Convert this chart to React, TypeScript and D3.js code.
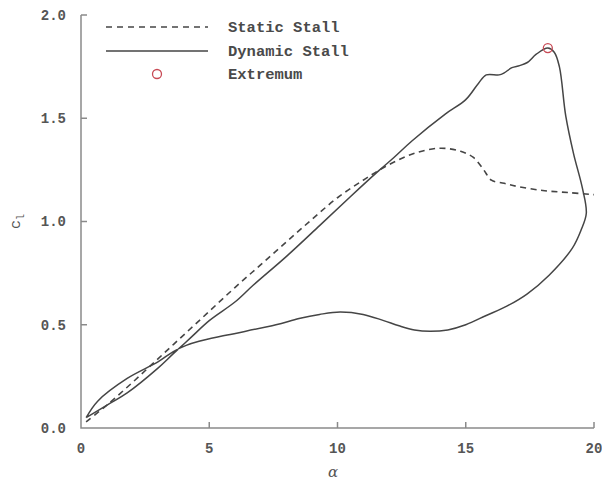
import React from "react";
import * as d3 from "d3";

const staticAlpha = [0.2, 1, 2, 3, 4, 5, 6, 7, 8, 9, 10, 11, 12, 13, 14, 14.8, 15.3, 15.7, 16, 16.5, 17, 18, 19, 20];
const staticCl = [0.03, 0.11, 0.22, 0.335, 0.45, 0.565, 0.68, 0.79, 0.9, 1.01, 1.115, 1.2, 1.275, 1.33, 1.355, 1.34, 1.31, 1.25, 1.2, 1.185, 1.17, 1.15, 1.14, 1.13];

const dynAlpha = [
  0.2, 1.0, 1.8, 3.0, 3.6, 4.3, 5.0, 6.0, 6.7, 8.0, 9.3, 10.5, 11.6, 12.2, 12.9, 14.2, 15.0, 15.5, 15.8, 16.3,
  16.5, 16.8, 17.1, 17.4, 17.75, 18.2, 18.45, 18.65, 18.9, 19.2, 19.55, 19.7, 19.5, 19.15, 18.25, 17.4, 16.6,
  15.8, 15.0, 14.3, 13.6, 13.0, 12.4, 11.8, 11.0, 10.1, 9.3, 8.5, 7.6, 5.7, 4.6, 4.1, 3.6, 3.0, 1.8, 0.65, 0.2,
];
const dynCl = [
  0.05, 0.11, 0.17, 0.29, 0.36, 0.44, 0.52, 0.61, 0.69, 0.83, 0.98, 1.12, 1.245, 1.31, 1.39, 1.52, 1.59, 1.67, 1.71, 1.71,
  1.72, 1.745, 1.755, 1.77, 1.81, 1.84, 1.82, 1.75, 1.51, 1.33, 1.16, 1.04, 0.96, 0.87, 0.74, 0.65, 0.59,
  0.545, 0.5, 0.475, 0.468, 0.475, 0.495, 0.52, 0.55, 0.562, 0.55, 0.53, 0.5, 0.45, 0.42, 0.4, 0.37, 0.32, 0.24, 0.13, 0.05,
];

const extremumAlpha = [18.2];
const extremumCl = [1.84];

const xTicks = [0, 5, 10, 15, 20];
const yTicks = [0, 0.5, 1.0, 1.5, 2.0];
const yTickLabels = ["0.0", "0.5", "1.0", "1.5", "2.0"];
const legendLabels = ["Static Stall", "Dynamic Stall", "Extremum"];

export default function App() {
  const W = 602, H = 480;
  const x = d3.scaleLinear().domain([0, 20]).range([81, 594]);
  const y = d3.scaleLinear().domain([0, 2]).range([428, 15]);
  const line = d3
    .line<[number, number]>()
    .x((d) => x(d[0]))
    .y((d) => y(d[1]))
    .curve(d3.curveCatmullRom.alpha(0.5));
  const staticPts: [number, number][] = staticAlpha.map((a, i) => [a, staticCl[i]]);
  const dynPts: [number, number][] = dynAlpha.map((a, i) => [a, dynCl[i]]);
  const axisColor = "#8a8a8a";
  const curveColor = "#454545";
  const textColor = "#555";
  const font = "'Liberation Mono', monospace";
  return (
    <svg width={W} height={H} style={{ position: "absolute", left: 0, top: 0, background: "#fff" }}>
      <rect x={0} y={0} width={W} height={H} fill="#fff" />
      <path d={`M${x(0)},${y(2)}V${y(0)}H${x(20)}`} fill="none" stroke={axisColor} strokeWidth={1.5} />
      {yTicks.slice(1).map((t) => (
        <line key={"yt" + t} x1={x(0)} x2={x(0) + 6} y1={y(t)} y2={y(t)} stroke={axisColor} strokeWidth={1.5} />
      ))}
      {xTicks.slice(1).map((t) => (
        <line key={"xt" + t} x1={x(t)} x2={x(t)} y1={y(0)} y2={y(0) - 6} stroke={axisColor} strokeWidth={1.5} />
      ))}
      {yTicks.map((t, i) => (
        <text key={"yl" + t} x={x(0) - 15} y={y(t)} dy="0.35em" textAnchor="end" fontFamily={font} fontWeight="bold" fontSize={14} fill={textColor}>
          {yTickLabels[i]}
        </text>
      ))}
      {xTicks.map((t) => (
        <text key={"xl" + t} x={x(t)} y={448} dy="0.35em" textAnchor="middle" fontFamily={font} fontWeight="bold" fontSize={14} fill={textColor}>
          {t}
        </text>
      ))}
      <text x={333} y={472} dy="0.35em" textAnchor="middle" fontFamily="'DejaVu Serif', serif" fontStyle="italic" fontSize={15} fill={textColor}>
        α
      </text>
      <text transform={`translate(20,${y(1)}) rotate(-90)`} textAnchor="middle" fontFamily={font} fontSize={15} fill={textColor}>
        c<tspan fontSize={10} dy={4}>l</tspan>
      </text>
      <path d={line(staticPts) || ""} fill="none" stroke={curveColor} strokeWidth={1.6} strokeDasharray="6,4.5" />
      <path d={line(dynPts) || ""} fill="none" stroke={curveColor} strokeWidth={1.5} />
      {extremumAlpha.map((a, i) => (
        <circle key={"ex" + i} cx={x(a)} cy={y(extremumCl[i])} r={4.5} fill="none" stroke="#c84a55" strokeWidth={1.3} />
      ))}
      <line x1={106} x2={208} y1={27} y2={27} stroke={curveColor} strokeWidth={1.6} strokeDasharray="6,5" />
      <line x1={106} x2={208} y1={51} y2={51} stroke={curveColor} strokeWidth={1.5} />
      <circle cx={157} cy={74} r={4.5} fill="none" stroke="#c84a55" strokeWidth={1.3} />
      {legendLabels.map((l, i) => (
        <text key={l} x={228} y={27 + i * 23.5} dy="0.35em" fontFamily={font} fontWeight="bold" fontSize={15.5} fill="#4a4a4a">
          {l}
        </text>
      ))}
    </svg>
  );
}
